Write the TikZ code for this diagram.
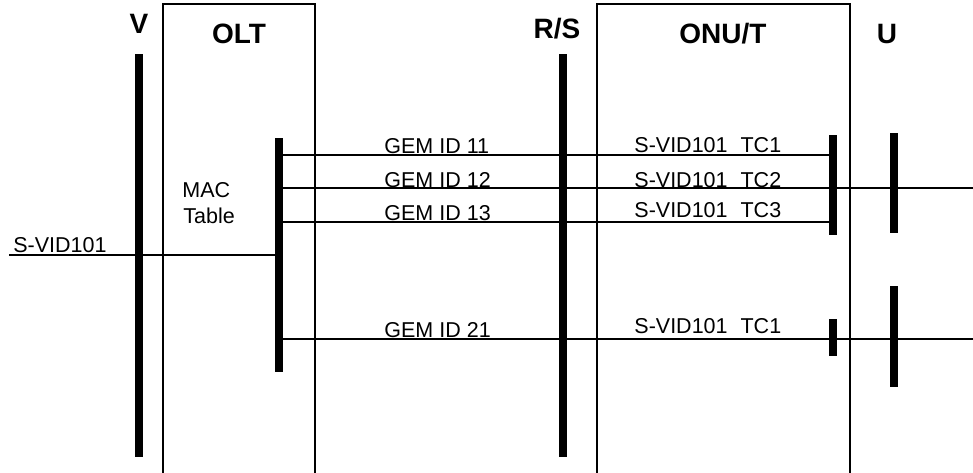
\documentclass[tikz,border=0pt]{standalone}
\usepackage{fontspec}
\setmainfont{Liberation Sans}

\begin{document}
\begin{tikzpicture}[x=1pt, y=-1pt, thick,
    box/.style = {draw, rectangle, line width=1.2pt, inner sep=0pt, minimum height=500pt},
    bar/.style = {fill=black, rectangle, inner sep=0pt, minimum width=8pt},
    title/.style = {font=\fontsize{28}{32}\selectfont\bfseries, inner sep=0pt, anchor=base},
    desc/.style = {font=\fontsize{21.5}{25}\selectfont, inner sep=0pt, anchor=base west},
    wire/.style = {line width=1.6pt}]
        \useasboundingbox (0,0) rectangle (973,472);
        \clip (0,0) rectangle (973,472);
        \node[box, minimum width=152pt] (olt) at (239,254) {};
        \node[box, minimum width=253pt] (onu) at (723.5,254) {};
        \node[bar, minimum height=403pt] (vbar) at (139,255.5) {};
        \node[bar, minimum height=403pt] (rsbar) at (563,255.5) {};
        \node[bar, minimum height=234pt] (macbar) at (279,255) {};
        \node[bar, minimum height=100pt] (onuA) at (833,185) {};
        \node[bar, minimum height=37pt] (onuB) at (833,337.5) {};
        \node[bar, minimum height=100pt] (uA) at (894,183) {};
        \node[bar, minimum height=101pt] (uB) at (894,336.5) {};
        \node[title] (vlbl) at (139,33) {V};
        \node[title] (oltlbl) at (239,43) {OLT};
        \node[title] (rslbl) at (557,38) {R/S};
        \node[title] (onulbl) at (723,43) {ONU/T};
        \node[title] (ulbl) at (887,43) {U};
        \node[desc] (mac) at (182,197) {MAC};
        \node[desc] (table) at (183,223) {Table};
        \node[desc] (svid) at (13,252) {S-VID101};
        \node[desc] (gem11) at (384,153) {GEM ID 11};
        \node[desc] (gem12) at (384,187) {GEM ID 12};
        \node[desc] (gem13) at (384,220) {GEM ID 13};
        \node[desc] (gem21) at (384,337) {GEM ID 21};
        \node[desc] (tc1) at (634,152) {S-VID101\hspace{13pt}TC1};
        \node[desc] (tc2) at (634,187) {S-VID101\hspace{13pt}TC2};
        \node[desc] (tc3) at (634,217) {S-VID101\hspace{13pt}TC3};
        \node[desc] (tc21) at (634,333) {S-VID101\hspace{13pt}TC1};
        \coordinate (in) at (9,255);
        \coordinate (y11) at (0,155);
        \coordinate (y13) at (0,222);
        \coordinate (out12) at (973,188);
        \coordinate (out21) at (973,339);
        \draw[wire] (in) -- (in -| macbar.west);
        \draw[wire] (macbar.east |- y11) -- (onuA.west |- y11);
        \draw[wire] (macbar.east |- out12) -- (out12);
        \draw[wire] (macbar.east |- y13) -- (onuA.west |- y13);
        \draw[wire] (macbar.east |- out21) -- (out21);
    \end{tikzpicture}
\end{document}
